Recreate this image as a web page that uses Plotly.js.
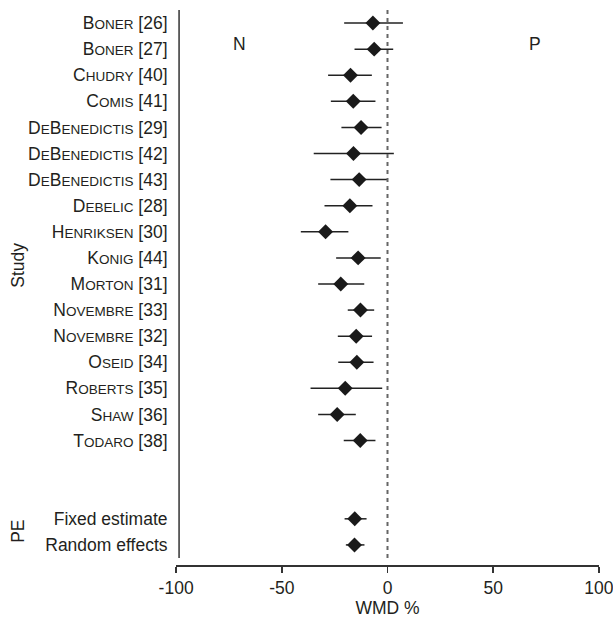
<!DOCTYPE html>
<html>
<head>
<meta charset="utf-8">
<script src="https://cdn.plot.ly/plotly-3.0.1.min.js"></script>
<style>html,body{margin:0;padding:0;background:#fff;}#chart{width:613px;height:623px;}</style>
</head>
<body>
<div id="chart"></div>
<script>
// Study names: [first letter, rest (small caps), reference]
const studyFirst = ["B","B","C","C","D","D","D","D","H","K","M","N","N","O","R","S","T"];
const studyRest = ["ONER","ONER","HUDRY","OMIS","E|B|ENEDICTIS","E|B|ENEDICTIS","E|B|ENEDICTIS","EBELIC","ENRIKSEN","ONIG","ORTON","OVEMBRE","OVEMBRE","SEID","OBERTS","HAW","ODARO"];
const studyRef = ["[26]","[27]","[40]","[41]","[29]","[42]","[43]","[28]","[30]","[44]","[31]","[33]","[32]","[34]","[35]","[36]","[38]"];
const studyWMD = [-6.9,-6.3,-17.5,-16.2,-12.5,-16.1,-13.4,-17.8,-29.3,-13.9,-22.1,-12.8,-14.8,-14.5,-20.0,-23.8,-12.9];
const studyLow = [-20.5,-15.6,-28.1,-26.8,-21.8,-34.9,-27.0,-29.8,-41.0,-24.3,-32.8,-18.8,-23.5,-23.3,-36.4,-32.8,-20.7];
const studyHigh = [7.3,2.7,-7.4,-5.7,-2.8,3.0,-0.1,-7.1,-18.5,-3.2,-11.0,-6.3,-7.3,-6.6,-2.5,-15.0,-5.7];

const peLabels = ["Fixed estimate","Random effects"];
const peWMD = [-15.5,-15.6];
const peLow = [-20.3,-19.7];
const peHigh = [-9.9,-10.9];

const xTicks = [-100,-50,0,50,100];

const FONT = "'Liberation Sans Narrow', 'Arial Narrow', 'Liberation Sans', Arial, sans-serif";
const TXT = "#231f20";
const BIG = 17.5, SMALL = 13.5;

function smallCaps(first, rest, ref){
  const parts = rest.split("|");
  let s = first;
  parts.forEach((p,i)=>{
    if(!p) return;
    if(i % 2 === 1) s += p;
    else s += "<span style='font-size:" + SMALL + "px'>" + p + "</span>";
  });
  return s + " " + ref;
}

const nS = studyWMD.length;
const studyY = studyWMD.map((_,i)=>i+1);
const peY = peWMD.map((_,i)=>nS+3+i);

const allY = studyY.concat(peY);
const allX = studyWMD.concat(peWMD);
const allLo = studyLow.concat(peLow);
const allHi = studyHigh.concat(peHigh);
const allText = studyFirst.map((f,i)=>smallCaps(f,studyRest[i],studyRef[i])).concat(peLabels);

const traces = [];
const lx=[], ly=[];
allY.forEach((y,i)=>{ lx.push(allLo[i], allHi[i], null); ly.push(y,y,null); });
traces.push({x:lx, y:ly, mode:"lines", type:"scatter", line:{color:"#222", width:1.5}, hoverinfo:"skip", showlegend:false});
traces.push({x:allX, y:allY, mode:"markers", type:"scatter", marker:{symbol:"diamond", size:11.5, color:"#1a1a1a", line:{width:0}}, showlegend:false});

const yTop = 0.5, yBot = nS + 4 + 0.5;
const layout = {
  width:613, height:623,
  margin:{l:176, r:14, t:10, b:58},
  paper_bgcolor:"#fff", plot_bgcolor:"#fff",
  font:{family:FONT, size:BIG, color:TXT},
  showlegend:false,
  xaxis:{range:[-100.05,100.05], tickvals:xTicks, ticktext:xTicks.map(String), showgrid:false, zeroline:false,
    showline:true, linecolor:"#333", linewidth:1.5, ticks:"outside", ticklen:6, tickwidth:1.5, tickcolor:"#333",
    ticklabeloverflow:"allow",
    tickfont:{family:FONT, size:BIG, color:TXT},
    title:{text:"WMD %", font:{family:FONT, size:BIG, color:TXT}, standoff:2}},
  yaxis:{range:[yBot + 0.27, yTop], tickvals:allY, ticktext:allText, showgrid:false, zeroline:false, showline:false,
    ticks:"outside", ticklen:4, tickcolor:"rgba(0,0,0,0)", tickfont:{family:FONT, size:BIG, color:TXT}},
  shapes:[
    {type:"line", xref:"x", yref:"y", x0:-98.6, x1:-98.6, y0:yTop, y1:yBot, line:{color:"#333", width:1.5}},
    {type:"line", xref:"x", yref:"y", x0:0, x1:0, y0:yTop, y1:yBot, line:{color:"#666", width:2, dash:"4px,4px"}}
  ],
  annotations:[
    {text:"N", x:-70, y:2, yshift:5, xref:"x", yref:"y", showarrow:false, font:{family:FONT, size:BIG, color:TXT}},
    {text:"P", x:70, y:2, yshift:5, xref:"x", yref:"y", showarrow:false, font:{family:FONT, size:BIG, color:TXT}},
    {text:"Study", x:0, xref:"paper", y:10.3, yref:"y", textangle:-90, showarrow:false, xanchor:"center", font:{family:FONT, size:BIG, color:TXT}},
    {text:"PE", x:0, xref:"paper", y:(peY[0]+peY[1])/2, yref:"y", textangle:-90, showarrow:false, xanchor:"center", font:{family:FONT, size:BIG, color:TXT}}
  ]
};
const plotW = 613 - 176 - 14;
layout.annotations[2].x = (18 - 176)/plotW;
layout.annotations[3].x = (18 - 176)/plotW;

Plotly.newPlot("chart", traces, layout, {displayModeBar:false, staticPlot:true});
</script>
</body>
</html>
